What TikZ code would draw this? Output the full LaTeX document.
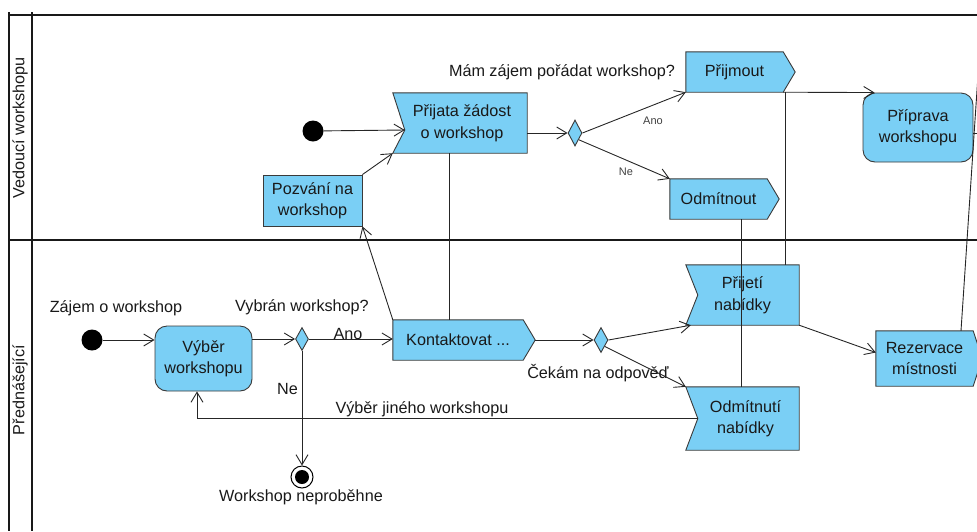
\documentclass[tikz,border=0pt]{standalone}
\usepackage{fontspec}
\setmainfont{Liberation Sans}
\usetikzlibrary{arrows.meta,shapes.geometric,backgrounds}
\definecolor{actfill}{RGB}{122,207,245}
\definecolor{actline}{RGB}{58,58,58}
\definecolor{ink}{RGB}{25,25,25}
\begin{document}
\begin{tikzpicture}[x=1pt,y=-1pt,
  font=\fontsize{16.2}{21.5}\selectfont, text=ink,
  lane/.style={draw=black!90, line width=2.8pt},
  shapefill/.style={draw=actline, fill=actfill, line width=0.9pt, line join=miter},
  plainbox/.style={shapefill, inner sep=0pt, align=center},
  roundbox/.style={shapefill, rounded corners=12pt, inner sep=0pt, align=center},
  sigbox/.style={inner sep=0pt, align=center},
  decision/.style={diamond, shapefill, inner sep=0pt, minimum width=14pt, minimum height=26pt},
  startdot/.style={circle, fill=black, inner sep=0pt, minimum size=21pt},
  conn/.style={draw=black!85, line width=0.9pt},
  flow/.style={conn, -{Straight Barb[length=10pt,width=12pt]}},
  guard/.style={inner sep=0pt},
  smallguard/.style={inner sep=0pt, font=\fontsize{11}{13}\selectfont, text=black!75}]
\useasboundingbox (0,0) rectangle (977,531);

% swimlanes
\begin{pgfonlayer}{background}
  \draw[lane] (9,12) -- (9,531);
  \draw[lane] (32,12) -- (32,531);
  \draw[lane] (9,15) -- (977,15);
  \draw[lane] (9,240) -- (977,240);
\end{pgfonlayer}
\node[rotate=90] (laneA) at (20,128) {Vedoucí workshopu};
\node[rotate=90] (laneB) at (20,390) {Přednášející};

% upper lane
\node[startdot] (startA) at (313,131) {};
\node[plainbox, minimum width=99pt, minimum height=51pt] (pozvani) at (312.5,200.5) {Pozvání na\\workshop};
\node[sigbox, minimum width=134pt, minimum height=60pt] (prijata) at (460,123) {\hspace*{4pt}Přijata žádost\\\hspace*{4pt}o workshop};
\coordinate (prijataIn) at ([xshift=12pt,yshift=-7pt]prijata.west);
\node[decision] (dA) at (575,133) {};
\node[sigbox, minimum width=97pt, minimum height=40pt] (prijmout) at (734.5,72) {Přijmout};
\node[sigbox, minimum width=97pt, minimum height=40pt] (odmitnout) at (718.5,199) {Odmítnout};
\node[roundbox, minimum width=110pt, minimum height=69pt] (priprava) at (918,127.5) {Příprava\\workshopu};

% lower lane
\node[startdot] (startB) at (92,340) {};
\node[roundbox, minimum width=97pt, minimum height=65pt] (vyber) at (203.5,358.5) {Výběr\\workshopu};
\node[decision, minimum width=13pt, minimum height=23pt] (dB) at (302,339) {};
\node[circle, draw=black, line width=1pt, fill=white, inner sep=0pt, minimum size=22pt] (final) at (302,477) {};
\node[circle, fill=black, inner sep=0pt, minimum size=14pt] (finaldot) at (final) {};
\node[sigbox, minimum width=130pt, minimum height=40pt] (kontakt) at (458,340) {Kontaktovat ...};
\node[decision, minimum height=25pt] (dC) at (601,340) {};
\node[sigbox, minimum width=113pt, minimum height=60pt] (prijeti) at (742.5,295) {Přijetí\\nabídky};
\node[sigbox, minimum width=113pt, minimum height=63pt] (odmitnuti) at (742.5,418.5) {\hspace*{6pt}Odmítnutí\\\hspace*{6pt}nabídky};
\node[sigbox, minimum width=97pt, minimum height=55pt] (rezervace) at (924.5,358.5) {Rezervace\\místnosti};

% outlines of the signal shapes
\begin{pgfonlayer}{background}
  % accept event shapes (notch on the left)
  \path[shapefill] (prijata.north west) -- (prijata.north east) -- (prijata.south east)
    -- (prijata.south west) -- (prijataIn) -- cycle;
  \path[shapefill] (prijeti.north west) -- (prijeti.north east) -- (prijeti.south east)
    -- (prijeti.south west) -- ([xshift=12pt]prijeti.west) -- cycle;
  \path[shapefill] (odmitnuti.north west) -- (odmitnuti.north east) -- (odmitnuti.south east)
    -- (odmitnuti.south west) -- ([xshift=12pt]odmitnuti.west) -- cycle;
  % send signal shapes (point on the right)
  \path[shapefill] (prijmout.north west) -- (prijmout.north east) -- ([xshift=12pt]prijmout.east)
    -- (prijmout.south east) -- (prijmout.south west) -- cycle;
  \path[shapefill] (odmitnout.north west) -- (odmitnout.north east) -- ([xshift=12pt]odmitnout.east)
    -- (odmitnout.south east) -- (odmitnout.south west) -- cycle;
  \path[shapefill] (kontakt.north west) -- (kontakt.north east) -- ([xshift=12pt]kontakt.east)
    -- (kontakt.south east) -- (kontakt.south west) -- cycle;
  \path[shapefill] (rezervace.north west) -- (rezervace.north east) -- ([xshift=9pt]rezervace.east)
    -- (rezervace.south east) -- (rezervace.south west) -- cycle;
\end{pgfonlayer}

% free ends leaving to the right
\coordinate (offTop) at (981,30);
\coordinate (offMid) at (981,133);

% guard and event labels
\node[guard] (qA) at (562,72) {Mám zájem pořádat workshop?};
\node[smallguard] (anoA) at (653,121) {Ano};
\node[smallguard] (neA) at (626,172) {Ne};
\node[guard] (zajem) at (116,308) {Zájem o workshop};
\node[guard] (qB) at (302,307) {Vybrán workshop?};
\node[guard] (anoB) at (348,334) {Ano};
\node[guard] (neB) at (287.5,389) {Ne};
\node[guard] (jiny) at (422,409) {Výběr jiného workshopu};
\node[guard] (cekam) at (598,373) {Čekám na odpověď};
\node[guard] (neprob) at (301,497) {Workshop neproběhne};

% upper lane flows
\draw[flow] (startA) -- (prijataIn);
\draw[flow] (pozvani.north east) -- (prijata.south west);
\draw[flow] (prijata.east |- dA.west) -- (dA.west);
\draw[flow] (dA.east) -- (prijmout.south west);
\draw[flow] (dA.south east) -- (odmitnout.north west);
\draw[flow] (prijmout.south east) -- ([xshift=12pt]priprava.north west);
\draw[conn] (offMid -| priprava.east) -- (offMid);

% links between the lanes
\draw[conn] ([xshift=-11pt]prijata.south) -- ([xshift=-11pt]prijata.south |- kontakt.north);
\draw[flow] (kontakt.north west) -- (pozvani.south east);
\draw[conn] ([xshift=2pt]prijmout.south east) -- ([xshift=2pt]prijmout.south east |- prijeti.north);
\draw[conn] ([xshift=22.5pt]odmitnout.south) -- ([xshift=22.5pt]odmitnout.south |- odmitnuti.north);
\draw[conn] ([xshift=36.5pt]rezervace.north) -- (offTop);

% lower lane flows
\draw[flow] (startB) -- (vyber.west |- startB);
\draw[flow] (vyber.east |- dB.west) -- (dB.west);
\draw[flow] (dB.east) -- (kontakt.west |- dB.east);
\draw[flow] (dB.south) -- (final.north);
\draw[flow] ([xshift=12pt]kontakt.east) -- (dC.west);
\draw[flow] (dC.east) -- ([xshift=5pt]prijeti.south west);
\draw[flow] (dC.south east) -- (odmitnuti.north west);
\draw[flow] (prijeti.south east) -- ([yshift=6pt]rezervace.west);
\draw[flow] ([xshift=12pt]odmitnuti.west) -| ([xshift=-6.5pt]vyber.south);
\end{tikzpicture}
\end{document}
